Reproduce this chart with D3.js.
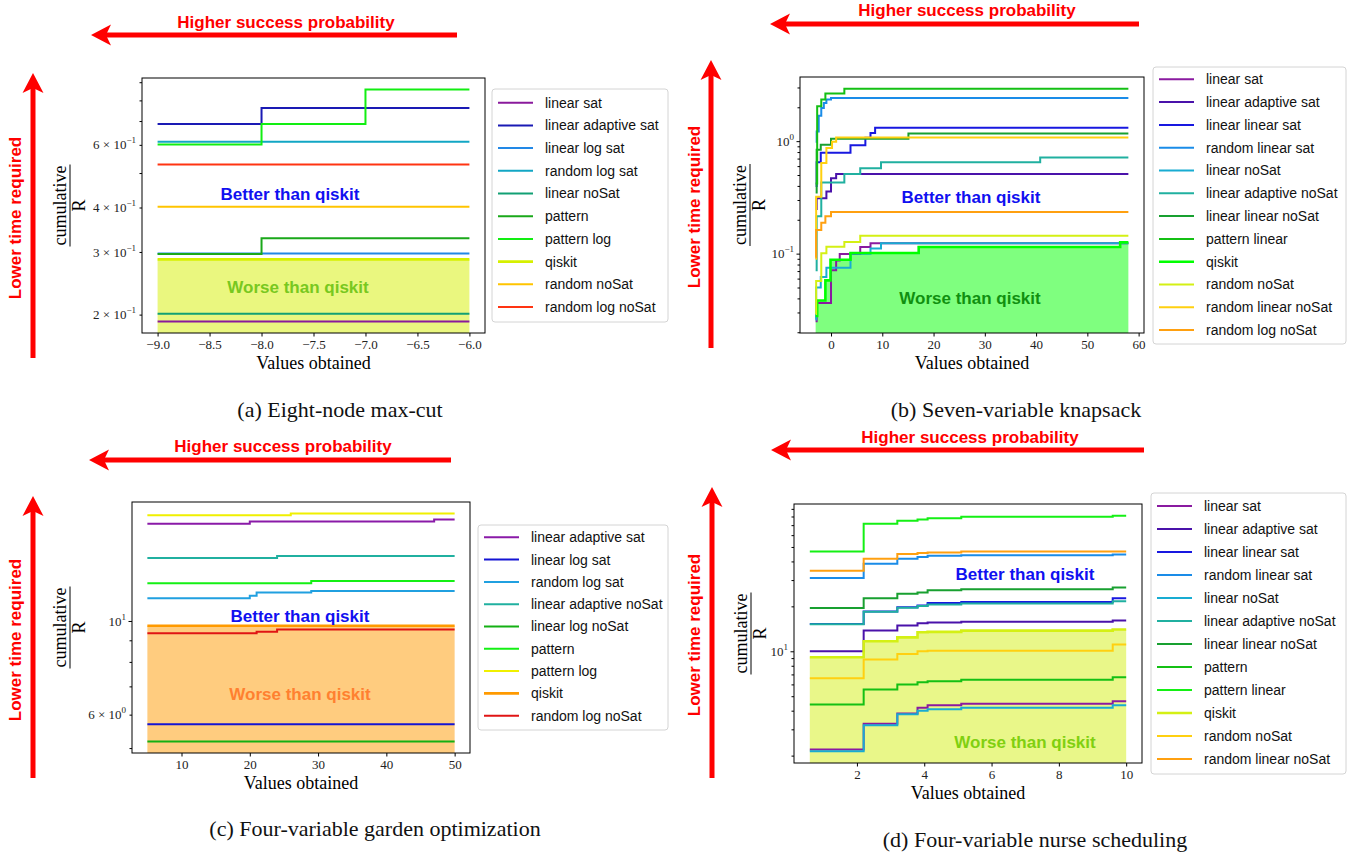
<!DOCTYPE html>
<html>
<head>
<meta charset="utf-8">
<script src="https://cdn.jsdelivr.net/npm/d3@7"></script>
<style>
body { margin: 0; background: #fff; }
svg text { font-family: "Liberation Serif", "Times New Roman", serif; }
svg text.sans { font-family: "Liberation Sans", Arial, Helvetica, sans-serif; }
</style>
</head>
<body>
<svg id="chart" width="1357" height="854"></svg>
<script>
// ---------- (a) Eight-node max-cut ----------
const maxcutNames = ["linear sat", "linear adaptive sat", "linear log sat", "random log sat", "linear noSat",
    "pattern", "pattern log", "qiskit", "random noSat", "random log noSat"];
const maxcutColors = ["#8a1a9c", "#1a1ab4", "#2288e6", "#12a6c4", "#12a074",
    "#1aa81a", "#12ee12", "#d6f000", "#ffc400", "#ff3412"];
const maxcutSeries = [
    [[-9, 0.1914], [-6, 0.1914]],
    [[-9, 0.687], [-8, 0.762], [-6, 0.762]],
    [[-9, 0.297], [-6, 0.297]],
    [[-9, 0.612], [-6, 0.612]],
    [[-9, 0.201], [-6, 0.201]],
    [[-9, 0.296], [-8, 0.328], [-6, 0.328]],
    [[-9, 0.601], [-8, 0.687], [-7, 0.858], [-6, 0.858]],
    [[-9, 0.286], [-6, 0.286]],
    [[-9, 0.402], [-6, 0.402]],
    [[-9, 0.528], [-6, 0.528]]
];
const maxcutXTicks = [-9, -8.5, -8, -7.5, -7, -6.5, -6];
const maxcutYLabelled = [0.2, 0.3, 0.4, 0.6];

// ---------- (b) Seven-variable knapsack ----------
const knapNames = ["linear sat", "linear adaptive sat", "linear linear sat", "random linear sat", "linear noSat",
    "linear adaptive noSat", "linear linear noSat", "pattern linear", "qiskit", "random noSat",
    "random linear noSat", "random log noSat"];
const knapColors = ["#8a1aa0", "#4a12aa", "#1818e0", "#1a8ce8", "#18acd2",
    "#20b0a0", "#18a030", "#14c014", "#00ff00", "#d4f014", "#ffd010", "#ffa010"];
const knapSeries = [
    [[-3, 0.025], [-2.8, 0.0365], [0, 0.071], [1, 0.087], [1.7, 0.0995], [5.7, 0.1147], [7.7, 0.1237], [58, 0.1237]],
    [[-3, 0.25], [-2.8, 0.31], [-0.9, 0.356], [0, 0.467], [1, 0.511], [58, 0.511]],
    [[-3, 0.40], [-2.8, 0.65], [-2, 0.79], [3.8, 0.92], [6.7, 1.07], [7.7, 1.18], [8.6, 1.315], [58, 1.315]],
    [[-3, 0.99], [-2.8, 1.22], [-2.4, 1.68], [-1.9, 1.97], [-1.4, 2.18], [-0.9, 2.34], [0, 2.42], [58, 2.42]],
    [[-3, 0.026], [-2.9, 0.05], [-2, 0.062], [-0.9, 0.075], [3.8, 0.10], [7.7, 0.111], [9.75, 0.1237], [58, 0.1237]],
    [[-3, 0.071], [-2.8, 0.215], [-1.9, 0.428], [2.6, 0.511], [5.7, 0.574], [9.75, 0.65], [40.8, 0.715], [58, 0.715]],
    [[-3, 0.35], [-2.8, 0.84], [-2, 0.93], [0, 1.05], [15.1, 1.17], [58, 1.17]],
    [[-3, 0.42], [-2.7, 2.04], [-1.9, 2.34], [-1.1, 2.65], [2.6, 2.93], [58, 2.93]],
    [[-3, 0.028], [-2.7, 0.0383], [-1.1, 0.0578], [-0.1, 0.0883], [3.8, 0.1014], [17.1, 0.1147], [56.4, 0.126], [58, 0.126]],
    [[-3, 0.029], [-2.9, 0.057], [-1.9, 0.101], [-0.9, 0.115], [2.6, 0.127], [5.7, 0.144], [58, 0.144]],
    [[-3, 0.09], [-2.9, 0.32], [-1.9, 0.64], [-0.9, 0.87], [0.2, 0.99], [1, 1.078], [58, 1.078]],
    [[-3, 0.093], [-2.9, 0.162], [-1.9, 0.188], [-1.1, 0.215], [0, 0.234], [58, 0.234]]
];
const knapXTicks = [0, 10, 20, 30, 40, 50, 60];
const knapYLabelled = [0.1, 1];

// ---------- (c) Four-variable garden optimization ----------
const gardenNames = ["linear adaptive sat", "linear log sat", "random log sat", "linear adaptive noSat",
    "linear log noSat", "pattern", "pattern log", "qiskit", "random log noSat"];
const gardenColors = ["#8a1aa8", "#1414d4", "#20a0e0", "#20b0a0", "#14b014",
    "#14f014", "#f0f000", "#ff9a00", "#e01414"];
const gardenSeries = [
    [[5, 17.0], [20, 17.2], [47, 17.4], [50, 17.4]],
    [[5, 5.69], [50, 5.69]],
    [[5, 11.32], [20, 11.47], [21, 11.68], [29, 11.78], [50, 11.78]],
    [[5, 14.09], [24, 14.26], [50, 14.26]],
    [[5, 5.18], [50, 5.18]],
    [[5, 12.29], [29, 12.43], [50, 12.43]],
    [[5, 17.8], [26, 17.98], [50, 17.98]],
    [[5, 9.745], [50, 9.745]],
    [[5, 9.35], [21, 9.43], [24, 9.54], [50, 9.54]]
];
const gardenXTicks = [10, 20, 30, 40, 50];
const gardenYLabelled = [6, 10];

// ---------- (d) Four-variable nurse scheduling ----------
const nurseNames = ["linear sat", "linear adaptive sat", "linear linear sat", "random linear sat", "linear noSat",
    "linear adaptive noSat", "linear linear noSat", "pattern", "pattern linear", "qiskit",
    "random noSat", "random linear noSat"];
const nurseColors = ["#8a1aa0", "#4a12aa", "#1818e0", "#1a8ce8", "#18acd2",
    "#20b0a0", "#18a030", "#14c014", "#14f014", "#d4f014", "#ffd010", "#ffa010"];
const nurseSeries = [
    [[0.6, 2.2], [2.2, 3.27], [3.2, 3.83], [3.8, 4.18], [4.1, 4.35], [5.1, 4.45], [9.6, 4.63], [10, 4.63]],
    [[0.6, 10.0], [2.2, 13.8], [3.2, 14.9], [3.8, 15.4], [4.1, 15.6], [5.1, 15.8], [9.6, 16.1], [10, 16.1]],
    [[0.6, 15.25], [2.2, 18.5], [3.2, 19.7], [3.8, 20.3], [4.1, 21.1], [5.1, 21.4], [9.6, 22.7], [10, 22.7]],
    [[0.6, 31.0], [2.2, 38.6], [3.2, 41.7], [3.8, 42.8], [4.1, 43.6], [5.1, 44.0], [9.6, 44.5], [10, 44.5]],
    [[0.6, 2.14], [2.2, 3.2], [3.2, 3.78], [3.8, 4.0], [4.1, 4.09], [5.1, 4.18], [9.6, 4.35], [10, 4.35]],
    [[0.6, 15.2], [2.2, 18.4], [3.2, 19.6], [3.8, 20.1], [4.1, 20.6], [5.1, 20.9], [9.6, 21.6], [10, 21.6]],
    [[0.6, 19.5], [2.2, 22.7], [3.2, 24.3], [3.8, 24.8], [4.1, 25.6], [5.1, 26.0], [9.6, 26.8], [10, 26.8]],
    [[0.6, 4.4], [2.2, 5.55], [3.2, 5.99], [3.8, 6.21], [4.1, 6.3], [5.1, 6.44], [9.6, 6.7], [10, 6.7]],
    [[0.6, 46.7], [2.2, 71.5], [3.2, 74.8], [3.8, 76.5], [4.1, 78], [5.1, 79.6], [9.6, 80.9], [10, 80.9]],
    [[0.6, 9.12], [2.2, 11.67], [3.2, 12.4], [3.8, 13.4], [4.1, 13.5], [5.1, 13.75], [9.6, 14.0], [10, 14.0]],
    [[0.6, 6.59], [2.2, 8.8], [3.2, 9.6], [3.8, 10.0], [4.1, 10.1], [5.1, 10.1], [9.6, 11.1], [10, 11.1]],
    [[0.6, 34.7], [2.2, 41.7], [3.2, 44.8], [3.8, 45.5], [4.1, 45.9], [5.1, 46.7], [9.6, 46.7], [10, 46.7]]
];
const nurseXTicks = [2, 4, 6, 8, 10];
const nurseYLabelled = [10];

const captions = ["(a) Eight-node max-cut", "(b) Seven-variable knapsack",
    "(c) Four-variable garden optimization", "(d) Four-variable nurse scheduling"];

// layout of each panel (pixels)
const panels = [
    {names: maxcutNames, colors: maxcutColors, series: maxcutSeries, xTicks: maxcutXTicks, yLab: maxcutYLabelled,
     xFmt: d3.format(".1f"), box: [142, 485, 78, 333], yLabelX: 70,
     legend: {x: 492, y: 89, w: 176, h: 233, y0: 102.7, dy: 22.7},
     better: [290, 194], worse: [298, 287], worseColor: "#78c820",
     hArrow: [457, 35, 91, 35], hText: [286, 28], vArrow: [33, 358, 33, 73], vText: [15, 218],
     caption: [340, 409]},
    {names: knapNames, colors: knapColors, series: knapSeries, xTicks: knapXTicks, yLab: knapYLabelled,
     xFmt: d3.format("d"), box: [800, 1144, 77, 333], yLabelX: 750,
     legend: {x: 1153, y: 67, w: 193, h: 277, y0: 79.3, dy: 22.8},
     better: [971, 197], worse: [970, 298], worseColor: "#109010",
     hArrow: [1139, 24, 770, 24], hText: [967, 16], vArrow: [711, 348, 711, 60], vText: [694, 207],
     caption: [1016, 409]},
    {names: gardenNames, colors: gardenColors, series: gardenSeries, xTicks: gardenXTicks, yLab: gardenYLabelled,
     xFmt: d3.format("d"), box: [132, 470, 502, 753], yLabelX: 70,
     legend: {x: 478, y: 525, w: 190, h: 205, y0: 537.3, dy: 22.3},
     better: [300, 616], worse: [300, 694], worseColor: "#ff8030",
     hArrow: [451, 460, 89, 460], hText: [283, 452], vArrow: [33, 778, 33, 496], vText: [15, 640],
     caption: [375, 828]},
    {names: nurseNames, colors: nurseColors, series: nurseSeries, xTicks: nurseXTicks, yLab: nurseYLabelled,
     xFmt: d3.format("d"), box: [794, 1142, 504, 763], yLabelX: 751,
     legend: {x: 1151, y: 493, w: 195, h: 281, y0: 506, dy: 23.0},
     better: [1025, 574], worse: [1025, 742], worseColor: "#80d010",
     hArrow: [1144, 450, 771, 450], hText: [970, 443], vArrow: [712, 778, 712, 487], vText: [694, 635],
     caption: [1035, 839]}
];

const svg = d3.select("#chart");

function padLin(ext) { const m = (ext[1] - ext[0]) * 0.05; return [ext[0] - m, ext[1] + m]; }
function padLog(ext) {
    const a = Math.log10(ext[0]), b = Math.log10(ext[1]), m = (b - a) * 0.05;
    return [Math.pow(10, a - m), Math.pow(10, b + m)];
}

function arrow(x1, y1, x2, y2) {
    const ang = Math.atan2(y2 - y1, x2 - x1), L = 20, hw = 10.5, notch = 15;
    const ux = Math.cos(ang), uy = Math.sin(ang), px = -uy, py = ux;
    const bx = x2 - ux * L, by = y2 - uy * L, nx = x2 - ux * notch, ny = y2 - uy * notch;
    svg.append("line").attr("x1", x1).attr("y1", y1).attr("x2", nx).attr("y2", ny)
        .attr("stroke", "red").attr("stroke-width", 5);
    svg.append("path")
        .attr("d", `M${x2},${y2}L${bx + px * hw},${by + py * hw}L${nx},${ny}L${bx - px * hw},${by - py * hw}Z`)
        .attr("fill", "red");
}

function sciLabel(g, v, xPos, yPos) {
    const e = Math.floor(Math.log10(v) + 1e-9), m = Math.round(v / Math.pow(10, e));
    const t = g.append("text").attr("x", xPos).attr("y", yPos).attr("dy", "0.35em")
        .attr("text-anchor", "end").attr("font-size", 13).attr("fill", "#222");
    t.append("tspan").text(m === 1 ? "10" : m + " \u00d7 10");
    t.append("tspan").attr("dy", -6).attr("font-size", 9).text(e < 0 ? "\u2212" + (-e) : String(e));
}

function drawPanel(p, idx) {
    const [L, R, T, B] = p.box;
    const allX = p.series.flat().map(d => d[0]);
    const allY = p.series.flat().map(d => d[1]);
    const x = d3.scaleLinear(padLin(d3.extent(allX)), [L, R]);
    const y = d3.scaleLog(padLog(d3.extent(allY)), [B, T]);
    const g = svg.append("g");
    const qi = p.names.indexOf("qiskit");

    // shaded region under qiskit
    const area = d3.area().curve(d3.curveStepAfter)
        .x(d => x(d[0])).y0(B).y1(d => y(d[1]));
    g.append("path").datum(p.series[qi]).attr("d", area)
        .attr("fill", p.colors[qi]).attr("fill-opacity", 0.5);

    const line = d3.line().curve(d3.curveStepAfter).x(d => x(d[0])).y(d => y(d[1]));
    p.series.forEach((s, i) => {
        g.append("path").datum(s).attr("d", line).attr("fill", "none")
            .attr("stroke", p.colors[i]).attr("stroke-width", i === qi ? 2.6 : 2);
    });

    // axes
    const xa = g.append("g").attr("transform", `translate(0,${B})`)
        .call(d3.axisBottom(x).tickValues(p.xTicks).tickSize(3.5).tickPadding(3).tickFormat(p.xFmt));
    xa.select(".domain").remove();
    xa.selectAll("text").attr("font-size", 13).attr("fill", "#222");

    const ticks = y.ticks();
    const major = ticks.filter(v => Math.abs(Math.log10(v) - Math.round(Math.log10(v))) < 1e-9);
    const minor = ticks.filter(v => !major.includes(v));
    const ya = g.append("g").attr("transform", `translate(${L},0)`)
        .call(d3.axisLeft(y).tickValues(major).tickSize(3.5).tickFormat(""));
    ya.select(".domain").remove();
    const ym = g.append("g").attr("transform", `translate(${L},0)`)
        .call(d3.axisLeft(y).tickValues(minor).tickSize(2.5).tickFormat(""));
    ym.select(".domain").remove();
    p.yLab.forEach(v => sciLabel(g, v, L - 6, y(v)));

    g.append("rect").attr("x", L).attr("y", T).attr("width", R - L).attr("height", B - T)
        .attr("fill", "none").attr("stroke", "#000").attr("stroke-width", 1);

    // axis labels
    g.append("text").attr("x", (L + R) / 2).attr("y", B + 30).attr("dy", "0.35em")
        .attr("text-anchor", "middle").attr("font-size", 18).text("Values obtained");
    const yl = g.append("g").attr("transform", `translate(${p.yLabelX},${(T + B) / 2}) rotate(-90)`);
    yl.append("text").attr("y", -4).attr("text-anchor", "middle").attr("font-size", 18).text("cumulative");
    yl.append("line").attr("x1", -41).attr("x2", 41).attr("stroke", "#000").attr("stroke-width", 1);
    yl.append("text").attr("y", 15).attr("text-anchor", "middle").attr("font-size", 18).text("R");

    // annotations
    g.append("text").attr("class", "sans").attr("x", p.better[0]).attr("y", p.better[1]).attr("dy", "0.35em")
        .attr("text-anchor", "middle").attr("font-weight", "bold")
        .attr("font-size", 17).attr("fill", "#1010f0").text("Better than qiskit");
    g.append("text").attr("class", "sans").attr("x", p.worse[0]).attr("y", p.worse[1]).attr("dy", "0.35em")
        .attr("text-anchor", "middle").attr("font-weight", "bold")
        .attr("font-size", 17).attr("fill", p.worseColor).text("Worse than qiskit");

    // legend
    const lg = p.legend;
    g.append("rect").attr("x", lg.x).attr("y", lg.y).attr("width", lg.w).attr("height", lg.h)
        .attr("rx", 3).attr("fill", "#fff").attr("fill-opacity", 0.8)
        .attr("stroke", "#d4d4d4").attr("stroke-width", 1);
    p.names.forEach((n, i) => {
        const yy = lg.y0 + i * lg.dy;
        g.append("line").attr("x1", lg.x + 6).attr("x2", lg.x + 41).attr("y1", yy).attr("y2", yy)
            .attr("stroke", p.colors[i]).attr("stroke-width", i === qi ? 2.6 : 2);
        g.append("text").attr("class", "sans").attr("x", lg.x + 53).attr("y", yy).attr("dy", "0.35em")
            .attr("font-size", 14).attr("fill", "#111").text(n);
    });

    // red arrows
    arrow(...p.hArrow);
    arrow(...p.vArrow);
    svg.append("text").attr("class", "sans").attr("x", p.hText[0]).attr("y", p.hText[1])
        .attr("text-anchor", "middle").attr("font-weight", "bold").attr("font-size", 17)
        .attr("fill", "red").text("Higher success probability");
    svg.append("text").attr("class", "sans")
        .attr("transform", `translate(${p.vText[0]},${p.vText[1]}) rotate(-90)`)
        .attr("dy", "0.35em").attr("text-anchor", "middle").attr("font-weight", "bold").attr("font-size", 17)
        .attr("fill", "red").text("Lower time required");

    // caption
    svg.append("text").attr("x", p.caption[0]).attr("y", p.caption[1]).attr("dy", "0.35em")
        .attr("text-anchor", "middle").attr("font-size", 22).attr("fill", "#111").text(captions[idx]);
}

panels.forEach(drawPanel);
</script>
</body>
</html>
